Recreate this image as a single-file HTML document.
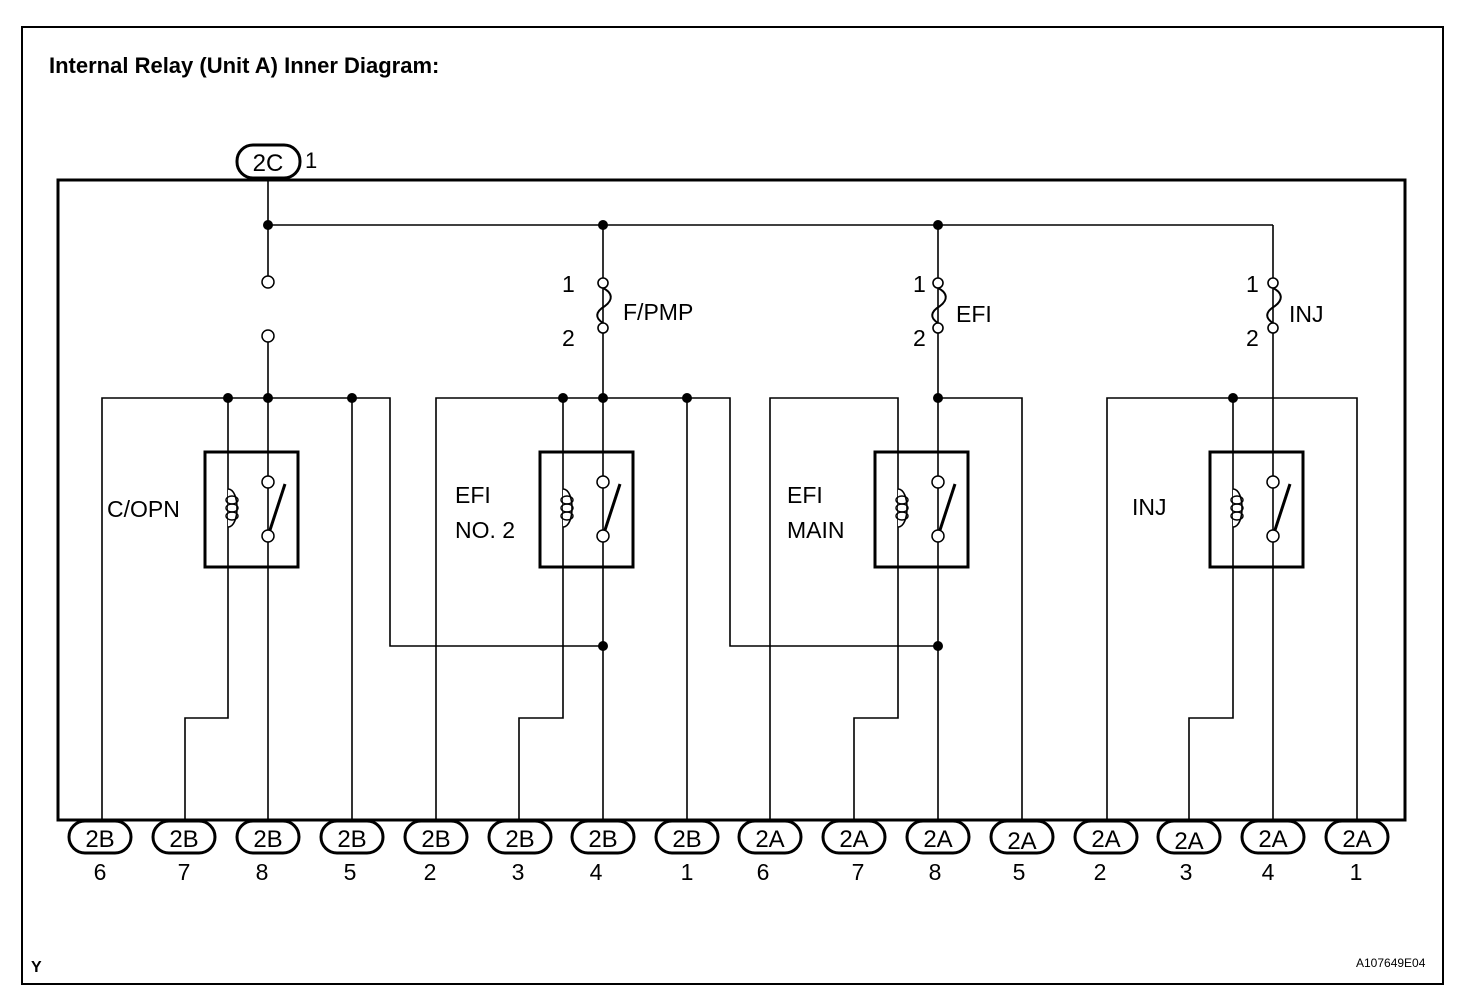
<!DOCTYPE html>
<html><head><meta charset="utf-8"><style>
html,body{margin:0;padding:0;background:#fff}
svg{display:block}
text{font-family:"Liberation Sans",Arial,sans-serif;fill:#000}
</style></head><body>
<svg width="1472" height="998" viewBox="0 0 1472 998" xmlns="http://www.w3.org/2000/svg">
<defs>
<g id="relay" fill="none" stroke="#000">
  <rect x="-63" y="452" width="93" height="115" stroke-width="3"/>
  <circle cx="0" cy="482" r="6" stroke-width="1.5" fill="#fff"/>
  <circle cx="0" cy="536" r="6" stroke-width="1.5" fill="#fff"/>
  <line x1="2" y1="530" x2="17" y2="484" stroke-width="3"/>
  <path d="M-40,489 C-28,489 -28,527 -40,527" stroke-width="1.6" fill="#fff"/>
  <ellipse cx="-36" cy="500" rx="6" ry="4" stroke-width="1.4"/>
  <ellipse cx="-36" cy="508" rx="6" ry="4" stroke-width="1.4"/>
  <ellipse cx="-36" cy="516" rx="6" ry="4" stroke-width="1.4"/>
</g>
<g id="fuse" fill="none" stroke="#000" stroke-width="2">
  <path d="M0,288 C10,293 10,300 2,306 C-8,312 -8,318 0,323"/>
  <circle cx="0" cy="283" r="5" fill="#fff" stroke-width="1.6"/>
  <circle cx="0" cy="328" r="5" fill="#fff" stroke-width="1.6"/>
</g>
<rect id="pill" x="-31" y="821" width="62" height="32" rx="16" fill="#fff" stroke="#000" stroke-width="3"/>
</defs>

<rect x="22" y="27" width="1421" height="957" fill="none" stroke="#000" stroke-width="2"/>
<text x="49" y="73" font-size="22" font-weight="bold">Internal Relay (Unit A) Inner Diagram:</text>

<g stroke="#000" stroke-width="1.6" fill="none">
  <line x1="268" y1="180" x2="268" y2="276"/>
  <line x1="268" y1="225" x2="1273" y2="225"/>
  <line x1="268" y1="342" x2="268" y2="820"/>
  <polyline points="102,820 102,398 390,398 390,646 603,646"/>
  <polyline points="228,398 228,718 185,718 185,820"/>
  <line x1="352" y1="398" x2="352" y2="820"/>
  <line x1="603" y1="225" x2="603" y2="820"/>
  <polyline points="436,820 436,398 730,398 730,646 938,646"/>
  <polyline points="563,398 563,718 519,718 519,820"/>
  <line x1="687" y1="398" x2="687" y2="820"/>
  <line x1="938" y1="225" x2="938" y2="820"/>
  <polyline points="770,820 770,398 898,398 898,718 854,718 854,820"/>
  <polyline points="938,398 1022,398 1022,820"/>
  <line x1="1273" y1="225" x2="1273" y2="820"/>
  <polyline points="1107,820 1107,398 1357,398 1357,820"/>
  <polyline points="1233,398 1233,718 1189,718 1189,820"/>
</g>
<g fill="#fff" stroke="#000" stroke-width="1.5">
  <circle cx="268" cy="282" r="6"/>
  <circle cx="268" cy="336" r="6"/>
</g>

<use href="#relay" x="268"/>
<use href="#relay" x="603"/>
<use href="#relay" x="938"/>
<use href="#relay" x="1273"/>

<use href="#fuse" x="603"/>
<use href="#fuse" x="938"/>
<use href="#fuse" x="1273"/>

<g fill="#000">
  <circle cx="268" cy="225" r="5"/><circle cx="603" cy="225" r="5"/><circle cx="938" cy="225" r="5"/>
  <circle cx="228" cy="398" r="5"/><circle cx="268" cy="398" r="5"/><circle cx="352" cy="398" r="5"/>
  <circle cx="563" cy="398" r="5"/><circle cx="603" cy="398" r="5"/><circle cx="687" cy="398" r="5"/>
  <circle cx="938" cy="398" r="5"/><circle cx="1233" cy="398" r="5"/>
  <circle cx="603" cy="646" r="5"/><circle cx="938" cy="646" r="5"/>
</g>

<rect x="58" y="180" width="1347" height="640" fill="none" stroke="#000" stroke-width="3"/>

<rect x="237" y="145" width="63" height="33" rx="16" fill="#fff" stroke="#000" stroke-width="3"/>
<text x="268" y="171" font-size="24" text-anchor="middle">2C</text>
<text x="305" y="168" font-size="22">1</text>

<g font-size="23">
  <text x="562" y="292">1</text><text x="562" y="346">2</text><text x="623" y="320">F/PMP</text>
  <text x="913" y="292">1</text><text x="913" y="346">2</text><text x="956" y="322">EFI</text>
  <text x="1246" y="292">1</text><text x="1246" y="346">2</text><text x="1289" y="322">INJ</text>
</g>

<g font-size="23">
  <text x="107" y="517">C/OPN</text>
  <text x="455" y="503">EFI</text><text x="455" y="538">NO. 2</text>
  <text x="787" y="503">EFI</text><text x="787" y="538">MAIN</text>
  <text x="1132" y="515">INJ</text>
</g>

<use href="#pill" x="100"/><use href="#pill" x="184"/><use href="#pill" x="268"/><use href="#pill" x="352"/>
<use href="#pill" x="436"/><use href="#pill" x="520"/><use href="#pill" x="603"/><use href="#pill" x="687"/>
<use href="#pill" x="770"/><use href="#pill" x="854"/><use href="#pill" x="938"/><use href="#pill" x="1022"/>
<use href="#pill" x="1106"/><use href="#pill" x="1189"/><use href="#pill" x="1273"/><use href="#pill" x="1357"/>
<g font-size="24" text-anchor="middle">
  <text x="100" y="847">2B</text><text x="184" y="847">2B</text><text x="268" y="847">2B</text><text x="352" y="847">2B</text>
  <text x="436" y="847">2B</text><text x="520" y="847">2B</text><text x="603" y="847">2B</text><text x="687" y="847">2B</text>
  <text x="770" y="847">2A</text><text x="854" y="847">2A</text><text x="938" y="847">2A</text><text x="1022" y="849">2A</text>
  <text x="1106" y="847">2A</text><text x="1189" y="849">2A</text><text x="1273" y="847">2A</text><text x="1357" y="847">2A</text>
</g>
<g font-size="23" text-anchor="middle">
  <text x="100" y="880">6</text><text x="184" y="880">7</text><text x="262" y="880">8</text><text x="350" y="880">5</text>
  <text x="430" y="880">2</text><text x="518" y="880">3</text><text x="596" y="880">4</text><text x="687" y="880">1</text>
  <text x="763" y="880">6</text><text x="858" y="880">7</text><text x="935" y="880">8</text><text x="1019" y="880">5</text>
  <text x="1100" y="880">2</text><text x="1186" y="880">3</text><text x="1268" y="880">4</text><text x="1356" y="880">1</text>
</g>

<text x="31" y="972" font-size="16" font-weight="bold">Y</text>
<text x="1356" y="967" font-size="12">A107649E04</text>
</svg>
</body></html>
